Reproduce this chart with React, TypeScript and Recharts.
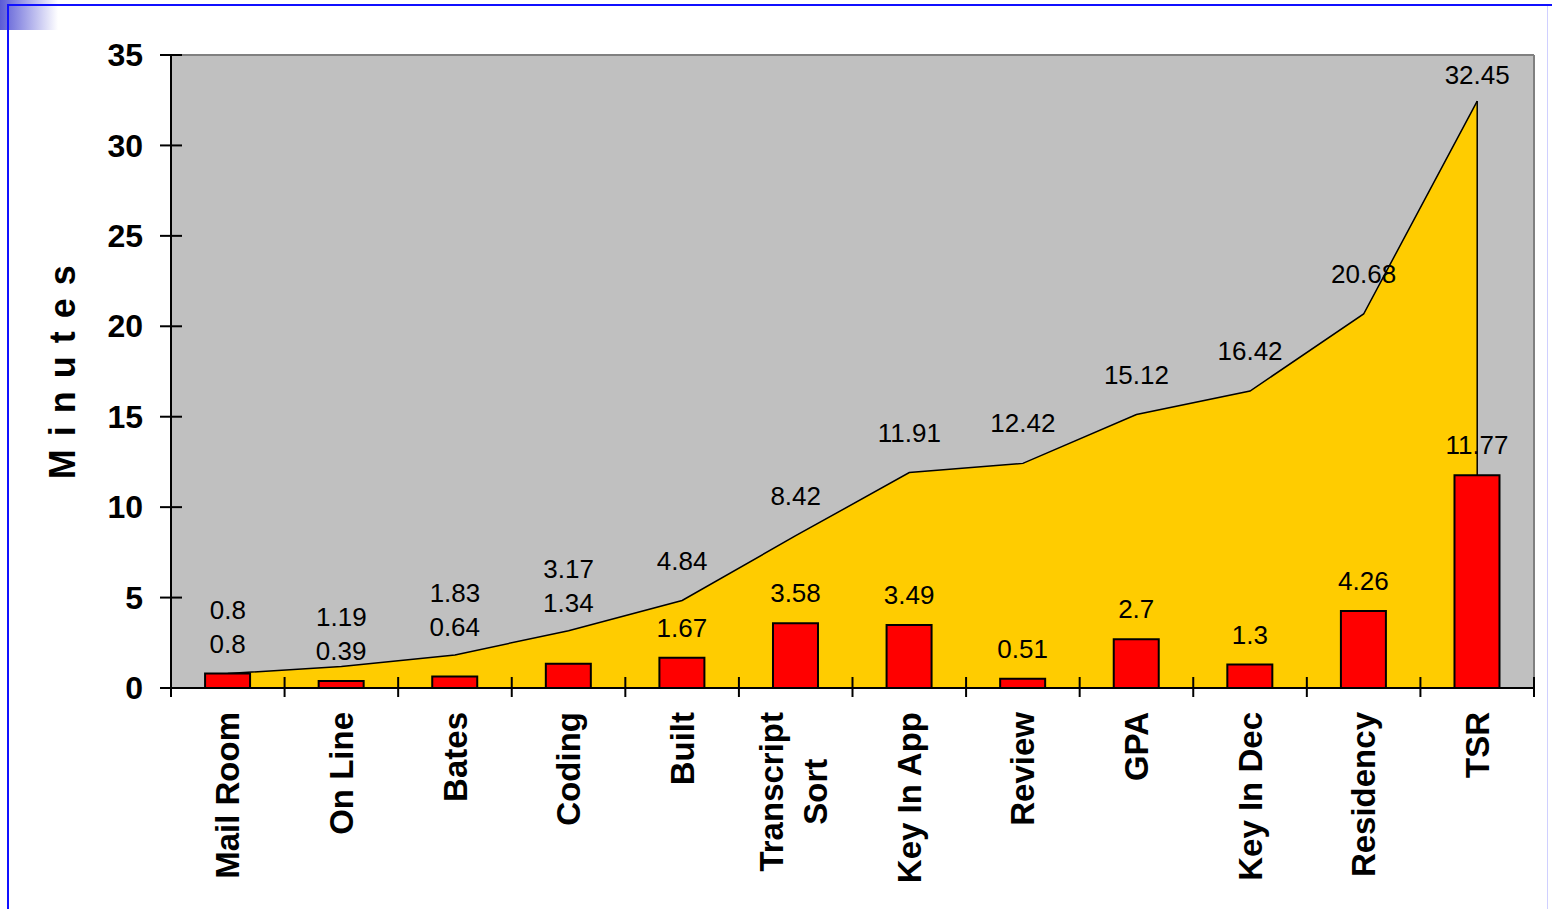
import React, { useLayoutEffect, useRef, useState } from "react";
import {
  ComposedChart,
  Area,
  Bar,
  XAxis,
  YAxis,
  CartesianGrid,
  LabelList,
  ReferenceLine,
} from "recharts";

// data
const categories = [
  "Mail Room",
  "On Line",
  "Bates",
  "Coding",
  "Built",
  "Transcript Sort",
  "Key In App",
  "Review",
  "GPA",
  "Key In Dec",
  "Residency",
  "TSR",
];
const tickLabels = [
  ["Mail Room"],
  ["On Line"],
  ["Bates"],
  ["Coding"],
  ["Built"],
  ["Transcript", "Sort"],
  ["Key In App"],
  ["Review"],
  ["GPA"],
  ["Key In Dec"],
  ["Residency"],
  ["TSR"],
];
const stepMinutes = [0.8, 0.39, 0.64, 1.34, 1.67, 3.58, 3.49, 0.51, 2.7, 1.3, 4.26, 11.77];
const cumulativeMinutes = [0.8, 1.19, 1.83, 3.17, 4.84, 8.42, 11.91, 12.42, 15.12, 16.42, 20.68, 32.45];
const yTicks = [0, 5, 10, 15, 20, 25, 30, 35];
const yTitle = "M i n u t e s";

const rows = categories.map((name, i) => ({
  name,
  step: stepMinutes[i],
  total: cumulativeMinutes[i],
}));

const CHART_W = 1552;
const CHART_H = 909;
const MARGIN = { top: 55, right: 18, left: 0, bottom: 0 };
const Y_AXIS_W = 171;
const X_AXIS_H = 221;
const PLOT_W = CHART_W - MARGIN.left - MARGIN.right - Y_AXIS_W;
const PLOT_H = CHART_H - MARGIN.top - MARGIN.bottom - X_AXIS_H;
const Y_MAX = 35;
const BAND = PLOT_W / categories.length;
const PX_PER_MIN = PLOT_H / Y_MAX;
const X_TICK_MARGIN = 24;
const Y_TICK_MARGIN = 28;

const FONT = "Arial, 'Liberation Sans', sans-serif";

// label placement: bar label sits over its bar unless it would sit on the
// cumulative line, then it hops over the line; the cumulative label goes above both
function barLabelCenter(barTop: number, lineY: number) {
  const c = barTop - 30;
  return Math.abs(c - lineY) < 14 ? lineY - 28 : c;
}

function YTick(props: any) {
  const { x, y, payload } = props;
  const axisX = x + Y_TICK_MARGIN;
  return (
    <g>
      <line x1={axisX - 11} x2={axisX + 11} y1={y} y2={y} stroke="#000" strokeWidth={2} />
      <text
        x={x}
        y={y}
        dy="0.35em"
        textAnchor="end"
        fontFamily={FONT}
        fontWeight="bold"
        fontSize={32}
        fill="#000"
      >
        {payload.value}
      </text>
    </g>
  );
}

function XTick(props: any) {
  const { x, y, index, payload } = props;
  const lines: string[] = tickLabels[index] ?? [String(payload.value)];
  const refs = useRef<(SVGTextElement | null)[]>([]);
  const [blockW, setBlockW] = useState(0);

  useLayoutEffect(() => {
    if (lines.length < 2) return;
    let w = 0;
    refs.current.forEach((el) => {
      if (el) w = Math.max(w, el.getComputedTextLength());
    });
    if (Math.abs(w - blockW) > 0.5) setBlockW(w);
  });

  const axisY = y - X_TICK_MARGIN;
  const half = BAND / 2;
  const isLast = index === categories.length - 1;
  const lineGap = 44;
  const multi = lines.length > 1;

  return (
    <g>
      <line x1={x - half} x2={x - half} y1={axisY - 11} y2={axisY + 9} stroke="#000" strokeWidth={2} />
      {isLast && (
        <line x1={x + half} x2={x + half} y1={axisY - 11} y2={axisY + 9} stroke="#000" strokeWidth={2} />
      )}
      <g transform={`translate(${x},${y}) rotate(-90)`}>
        {lines.map((line, i) => (
          <text
            key={i}
            ref={(el) => {
              refs.current[i] = el;
            }}
            x={multi ? -blockW / 2 : 0}
            y={(i - (lines.length - 1) / 2) * lineGap - (multi ? 2 : 0)}
            dy="0.35em"
            textAnchor={multi ? "middle" : "end"}
            fontFamily={FONT}
            fontWeight="bold"
            fontSize={33}
            fill="#000"
          >
            {line}
          </text>
        ))}
      </g>
    </g>
  );
}

function YTitle(props: any) {
  const { viewBox } = props;
  const cx = viewBox.x + 62;
  const cy = viewBox.y + viewBox.height / 2;
  return (
    <text
      transform={`translate(${cx},${cy}) rotate(-90)`}
      dy="0.35em"
      textAnchor="middle"
      fontFamily={FONT}
      fontWeight="bold"
      fontSize={36}
      letterSpacing={1.5}
      fill="#000"
    >
      {yTitle}
    </text>
  );
}

function AreaLabel(props: any) {
  const { x, y, value, index } = props;
  if (x == null || y == null) return null;
  const barTop = y + (cumulativeMinutes[index] - stepMinutes[index]) * PX_PER_MIN;
  let ly = Math.min(y - 40, barLabelCenter(barTop, y) - 34);
  ly = Math.max(ly, MARGIN.top + 20); // keep inside the plot frame
  return (
    <text x={x} y={ly} dy="0.35em" textAnchor="middle" fontFamily={FONT} fontSize={26} fill="#000">
      {value}
    </text>
  );
}

function BarLabel(props: any) {
  const { x, y, width, value, index } = props;
  if (x == null || y == null) return null;
  const lineY = y - (cumulativeMinutes[index] - stepMinutes[index]) * PX_PER_MIN;
  const ly = barLabelCenter(y, lineY);
  return (
    <text x={x + width / 2} y={ly} dy="0.35em" textAnchor="middle" fontFamily={FONT} fontSize={26} fill="#000">
      {value}
    </text>
  );
}

export default function App() {
  const last = categories.length - 1;
  return (
    <div style={{ position: "absolute", left: 0, top: 0, width: CHART_W, height: CHART_H, background: "#fff" }}>
      <div
        style={{
          position: "absolute",
          left: 0,
          top: 0,
          width: 58,
          height: 30,
          background: "linear-gradient(to right, #5a5ad6, #ffffff)",
        }}
      />
      <div style={{ position: "absolute", left: 7, top: 4, width: CHART_W - 7, height: 2, background: "#1010ff" }} />
      <div style={{ position: "absolute", left: 7, top: 4, width: 2, height: CHART_H - 4, background: "#1010ff" }} />
      <div style={{ position: "absolute", left: 1547, top: 6, width: 1, height: CHART_H - 6, background: "#d0d0ff" }} />
      <div style={{ position: "absolute", left: 0, top: 0 }}>
        <ComposedChart width={CHART_W} height={CHART_H} data={rows} margin={MARGIN} barCategoryGap="30%">
          <CartesianGrid
            fill="#C0C0C0"
            stroke="#808080"
            strokeWidth={2}
            horizontalPoints={[MARGIN.top]}
            verticalPoints={[MARGIN.left + Y_AXIS_W + PLOT_W]}
          />
          <XAxis
            dataKey="name"
            height={X_AXIS_H}
            interval={0}
            tickSize={0}
            tickMargin={X_TICK_MARGIN}
            tick={<XTick />}
            axisLine={{ stroke: "#000", strokeWidth: 2 }}
          />
          <YAxis
            width={Y_AXIS_W}
            domain={[0, Y_MAX]}
            ticks={yTicks}
            interval={0}
            tickSize={0}
            tickMargin={Y_TICK_MARGIN}
            tick={<YTick />}
            axisLine={{ stroke: "#000", strokeWidth: 2 }}
            label={{ content: YTitle }}
          />
          <Area
            type="linear"
            dataKey="total"
            stroke="#000"
            strokeWidth={1.5}
            fill="#FFCC00"
            fillOpacity={1}
            dot={false}
            activeDot={false}
            isAnimationActive={false}
          >
            <LabelList dataKey="total" content={AreaLabel} />
          </Area>
          <ReferenceLine
            segment={[
              { x: categories[last], y: stepMinutes[last] },
              { x: categories[last], y: cumulativeMinutes[last] },
            ]}
            stroke="#000"
            strokeWidth={1.5}
          />
          <Bar dataKey="step" fill="#FF0000" stroke="#000" strokeWidth={2} isAnimationActive={false}>
            <LabelList dataKey="step" content={BarLabel} />
          </Bar>
        </ComposedChart>
      </div>
    </div>
  );
}
